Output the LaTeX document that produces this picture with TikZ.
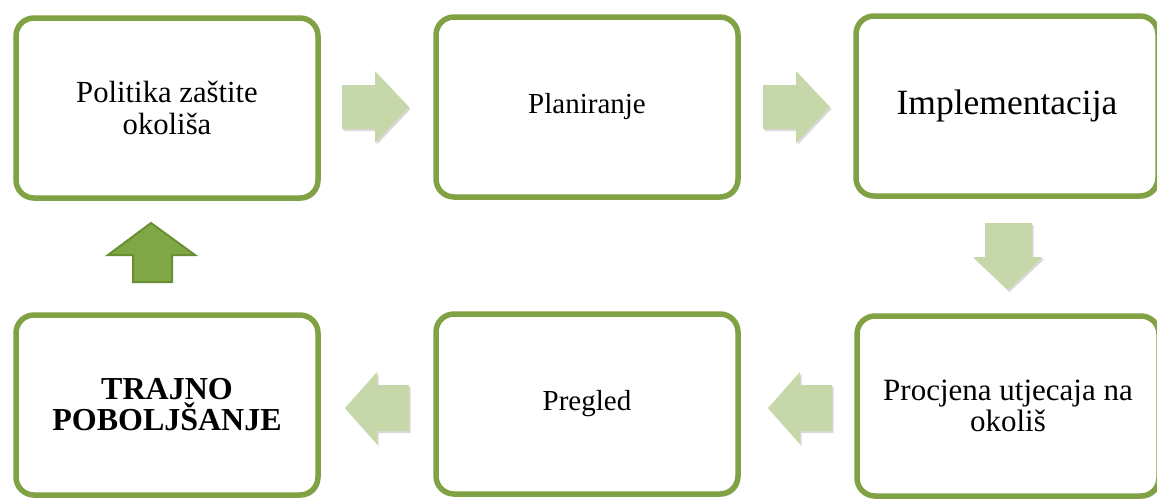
\documentclass[tikz,border=0pt]{standalone}
\usepackage{fontspec}
\setmainfont{Liberation Serif}
\usetikzlibrary{shadows}
\definecolor{boxgreen}{HTML}{80A244}
\definecolor{arrowlight}{HTML}{C6D8A9}
\definecolor{arrowdark}{HTML}{80A745}
\definecolor{arrowedge}{HTML}{6A8E33}
\begin{document}
\begin{tikzpicture}[x=1pt,y=-1pt,
  stepbox/.style={draw=boxgreen, line width=5.5pt, rounded corners=18pt, fill=white,
    minimum width=302pt, minimum height=180pt, align=center, inner sep=0pt,
    font=\fontsize{29}{31}\selectfont,
    drop shadow={shadow xshift=2pt, shadow yshift=-2.5pt, opacity=0.3, fill=black!60}},
  lightarrow/.style={fill=arrowlight, draw=none,
    drop shadow={shadow xshift=1.5pt, shadow yshift=-2pt, opacity=0.25, fill=black!60}},
  darkarrow/.style={fill=arrowdark, draw=arrowedge, line width=2pt, line join=miter}
]
\useasboundingbox (0,0) rectangle (1157,499);

% boxes
\node[stepbox, font=\fontsize{30.7}{32.5}\selectfont] (pol) at (167,108) {Politika zaštite\\okoliša};
\node[stepbox] (plan) at (587,107) {Planiranje};
\node[stepbox, font=\fontsize{35.5}{38}\selectfont] (impl) at (1007,106) {Implementacija};
\node[stepbox, font=\fontsize{31}{31}\selectfont] (proc) at (1008,406) {Procjena utjecaja na\\okoliš};
\node[stepbox] (preg) at (587,404) {Pregled};
\node[stepbox, font=\bfseries\fontsize{32}{31}\selectfont] (traj) at (167,405) {TRAJNO\\POBOLJŠANJE};

% right arrows
\fill[lightarrow] (342,85) -- (375,85) -- (375,71) -- (409,107) -- (375,143) -- (375,129) -- (342,129) -- cycle;
\fill[lightarrow] (763,85) -- (796,85) -- (796,71) -- (830,107) -- (796,143) -- (796,129) -- (763,129) -- cycle;
% down arrow
\fill[lightarrow] (985,223) -- (1032,223) -- (1032,257) -- (1043,257) -- (1008,290) -- (973,257) -- (985,257) -- cycle;
% left arrows
\fill[lightarrow] (832,385) -- (800,385) -- (800,372) -- (768,408) -- (800,444) -- (800,431) -- (832,431) -- cycle;
\fill[lightarrow] (409,385) -- (377,385) -- (377,372) -- (345,408) -- (377,444) -- (377,431) -- (409,431) -- cycle;
% up arrow
\draw[darkarrow] (133,282) -- (133,255) -- (108,255) -- (151,223) -- (195,255) -- (172,255) -- (172,282) -- cycle;
\end{tikzpicture}
\end{document}
